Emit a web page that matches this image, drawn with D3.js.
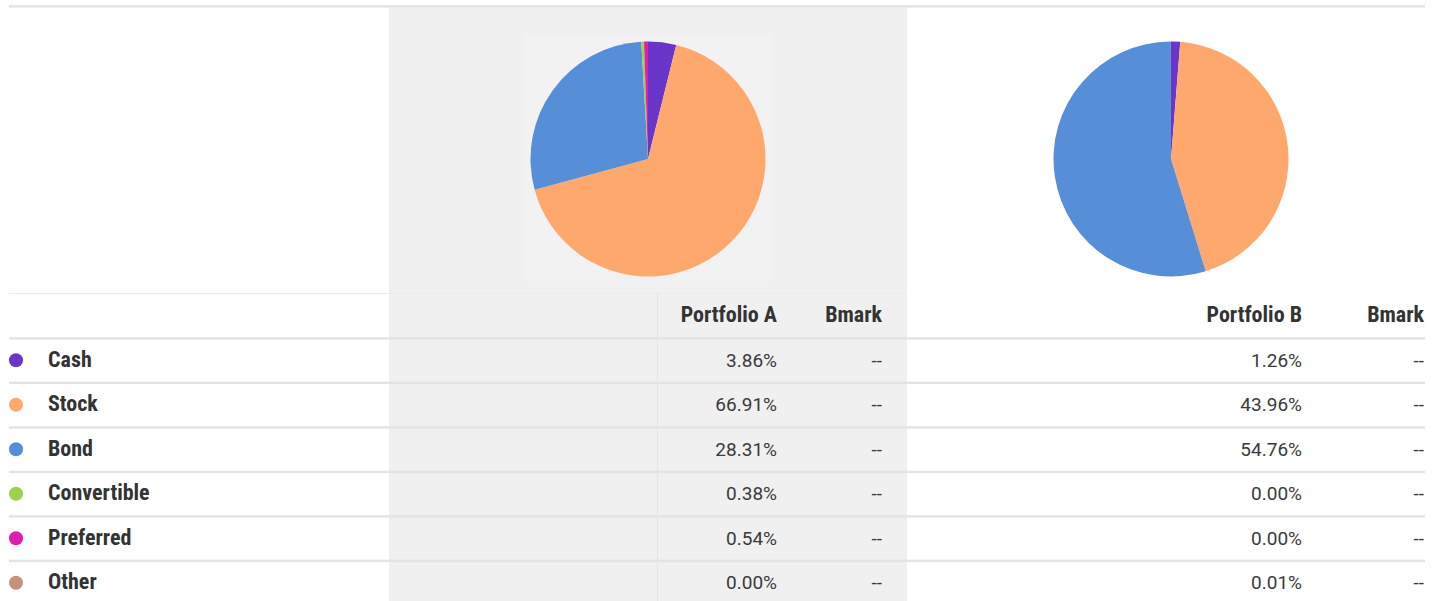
<!DOCTYPE html>
<html>
<head>
<meta charset="utf-8">
<script src="https://cdn.jsdelivr.net/npm/d3@7"></script>
<style>
  body { margin: 0; background: #fff; }
  svg { display: block; font-family: Roboto, "Noto Sans", sans-serif; }
  .label, .head { font-family: "Roboto Condensed", Roboto, sans-serif; font-stretch: 75%; font-weight: 700; font-size: 22px; fill: #333; }
  .val { font-size: 19px; fill: #3a3a3a; }
</style>
</head>
<body>
<div id="chart"></div>
<script>
// asset allocation
var categories = ["Cash", "Stock", "Bond", "Convertible", "Preferred", "Other"];
var portfolioA = [3.86, 66.91, 28.31, 0.38, 0.54, 0.00];
var portfolioB = [1.26, 43.96, 54.76, 0.00, 0.00, 0.01];
var bmarkA = ["--", "--", "--", "--", "--", "--"];
var bmarkB = ["--", "--", "--", "--", "--", "--"];
var colors = ["#6a35c9", "#ffa86e", "#568ed8", "#9dd14f", "#e01ead", "#c4927a"];
var headers = ["Portfolio A", "Bmark", "Portfolio B", "Bmark"];

var width = 1440;
var height = 601;
var pieRadius = 117.5;
var lineColor = "#e3e3e3";

var svg = d3.select("#chart").append("svg")
    .attr("width", width)
    .attr("height", height);

// grey panel behind portfolio A
svg.append("rect")
    .attr("x", 389).attr("y", 7)
    .attr("width", 907 - 389).attr("height", height - 7)
    .attr("fill", "#f0f0f0");

// top rule
svg.append("rect")
    .attr("x", 9).attr("y", 5)
    .attr("width", 1425 - 9).attr("height", 2.7)
    .attr("fill", "#e5e5e5");

var color = d3.scaleOrdinal().domain(categories).range(colors);

var pie = d3.pie()
    .sort(null)
    .value(function(d) { return d.value; });

var arc = d3.arc().innerRadius(0).outerRadius(pieRadius);

function drawPie(values, cx, cy, backdrop) {
    var g = svg.append("g").attr("transform", "translate(" + cx + "," + cy + ")");
    if (backdrop) {
        g.append("rect")
            .attr("x", -pieRadius - 5).attr("y", -pieRadius - 5)
            .attr("width", 2 * pieRadius + 10).attr("height", 2 * pieRadius + 10)
            .attr("fill", "#f2f2f2");
    }
    var data = categories.map(function(c, i) { return { key: c, value: values[i] }; });
    g.selectAll("path")
        .data(pie(data))
      .enter().append("path")
        .attr("d", arc)
        .attr("fill", function(d) { return color(d.data.key); });
}

drawPie(portfolioA, 648, 159, true);
drawPie(portfolioB, 1171, 159, false);

// table
var headerTop = 293;
var rowTop = 338;
var rowStep = 44.5;

var y = d3.scaleBand()
    .domain(categories)
    .range([rowTop, rowTop + rowStep * categories.length]);

// faint header rule and column divider
svg.append("line")
    .attr("x1", 9).attr("x2", 907)
    .attr("y1", headerTop + 0.5).attr("y2", headerTop + 0.5)
    .attr("stroke", "#ebebeb").attr("stroke-width", 1);
svg.append("line")
    .attr("x1", 657.5).attr("x2", 657.5)
    .attr("y1", headerTop).attr("y2", height)
    .attr("stroke", "#e4e4e4").attr("stroke-width", 1);

var cols = [777, 882, 1302, 1424];

svg.selectAll(".head")
    .data(headers)
  .enter().append("text")
    .attr("class", "head")
    .attr("x", function(d, i) { return cols[i]; })
    .attr("y", (headerTop + rowTop) / 2 - 1)
    .attr("dy", "0.35em")
    .attr("text-anchor", "end")
    .text(function(d) { return d; });

var row = svg.selectAll(".row")
    .data(categories)
  .enter().append("g")
    .attr("class", "row")
    .attr("transform", function(d) { return "translate(0," + y(d) + ")"; });

row.append("rect")
    .attr("x", 9).attr("y", -0.8)
    .attr("width", 1425 - 9).attr("height", 2.4)
    .attr("fill", lineColor);

var mid = rowStep / 2;

row.append("circle")
    .attr("cx", 16).attr("cy", mid)
    .attr("r", 7)
    .attr("fill", function(d) { return color(d); });

row.append("text")
    .attr("class", "label")
    .attr("x", 48).attr("y", mid - 1)
    .attr("dy", "0.35em")
    .text(function(d) { return d; });

var fmt = function(v) { return d3.format(".2f")(v) + "%"; };

row.append("text").attr("class", "val")
    .attr("x", cols[0]).attr("y", mid).attr("dy", "0.35em").attr("text-anchor", "end")
    .text(function(d, i) { return fmt(portfolioA[i]); });
row.append("text").attr("class", "val")
    .attr("x", cols[1]).attr("y", mid).attr("dy", "0.35em").attr("text-anchor", "end")
    .text(function(d, i) { return bmarkA[i]; });
row.append("text").attr("class", "val")
    .attr("x", cols[2]).attr("y", mid).attr("dy", "0.35em").attr("text-anchor", "end")
    .text(function(d, i) { return fmt(portfolioB[i]); });
row.append("text").attr("class", "val")
    .attr("x", cols[3]).attr("y", mid).attr("dy", "0.35em").attr("text-anchor", "end")
    .text(function(d, i) { return bmarkB[i]; });
</script>
</body>
</html>
